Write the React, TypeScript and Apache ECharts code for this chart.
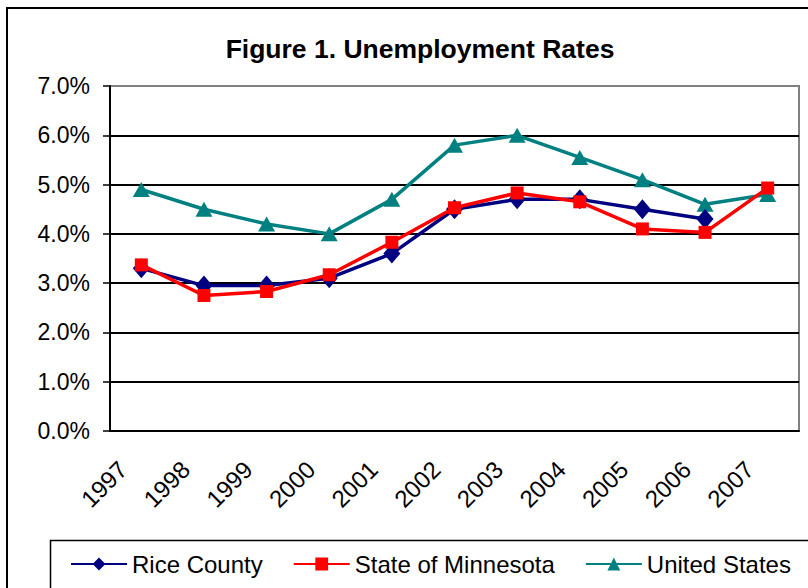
import React, { useEffect, useRef } from "react";
import * as echarts from "echarts";

const years = ["1997", "1998", "1999", "2000", "2001", "2002", "2003", "2004", "2005", "2006", "2007"];
const riceCounty = [3.3, 2.95, 2.95, 3.1, 3.6, 4.5, 4.7, 4.7, 4.5, 4.3, null];
const minnesota = [3.37, 2.75, 2.83, 3.17, 3.83, 4.53, 4.83, 4.65, 4.1, 4.03, 4.93];
const unitedStates = [4.9, 4.5, 4.2, 4.0, 4.7, 5.8, 6.0, 5.55, 5.1, 4.6, 4.8];

const FONT = "Liberation Sans, Arial, sans-serif";

export default function App() {
  const ref = useRef<HTMLDivElement>(null);
  useEffect(() => {
    if (!ref.current) return;
    const chart = echarts.init(ref.current, null, { renderer: "svg" });
    chart.setOption({
      animation: false,
      backgroundColor: "#ffffff",
      textStyle: { fontFamily: FONT },
      title: {
        text: "Figure 1. Unemployment Rates",
        left: 415,
        textAlign: "center",
        top: 30,
        textStyle: { fontFamily: FONT, fontSize: 26.5, fontWeight: "bold", color: "#000" },
      },
      graphic: [
        {
          type: "rect",
          shape: { x: 7, y: 8, width: 900, height: 700 },
          style: { fill: "none", stroke: "#000", lineWidth: 2 },
          z: -1,
        },
        {
          type: "rect",
          shape: { x: 50.5, y: 540.5, width: 900, height: 100 },
          style: { fill: "none", stroke: "#000", lineWidth: 1.5 },
          z: -1,
        },
      ],
      legend: {
        left: 70,
        top: 552,
        padding: 0,
        itemWidth: 56,
        itemHeight: 16,
        itemGap: 30,
        textStyle: { fontFamily: FONT, fontSize: 24, color: "#000" },
        data: ["Rice County", "State of Minnesota", "United States"],
      },
      grid: {
        left: 110,
        top: 86,
        right: 9,
        bottom: 157,
        show: true,
        borderColor: "#808080",
        borderWidth: 2,
        backgroundColor: "transparent",
      },
      xAxis: {
        type: "category",
        data: years,
        boundaryGap: true,
        axisLine: { lineStyle: { color: "#000", width: 2 } },
        axisTick: { show: false },
        axisLabel: {
          rotate: 45,
          margin: 16,
          padding: [0, 26, 0, 0],
          fontSize: 24,
          fontFamily: FONT,
          color: "#000",
        },
      },
      yAxis: {
        type: "value",
        min: 0,
        max: 7,
        interval: 1,
        axisLine: { show: true, lineStyle: { color: "#000", width: 2 } },
        axisTick: { show: true, length: 7, lineStyle: { color: "#000", width: 1.5 } },
        axisLabel: {
          margin: 20,
          fontSize: 23,
          fontFamily: FONT,
          color: "#000",
          formatter: (v: number) => v.toFixed(1) + "%",
        },
        splitLine: {
          lineStyle: {
            color: ["#000", "#000", "#000", "#000", "#000", "#000", "#000", "#808080"],
            width: 2,
          },
        },
      },
      series: [
        {
          name: "Rice County",
          type: "line",
          data: riceCounty,
          color: "#000080",
          lineStyle: { width: 3.5, color: "#000080" },
          symbol: "diamond",
          symbolSize: [17, 20],
          itemStyle: { color: "#000080" },
          z: 3,
        },
        {
          name: "State of Minnesota",
          type: "line",
          data: minnesota,
          color: "#ff0000",
          lineStyle: { width: 3.5, color: "#ff0000" },
          symbol: "rect",
          symbolSize: 13,
          itemStyle: { color: "#ff0000" },
          z: 4,
        },
        {
          name: "United States",
          type: "line",
          data: unitedStates,
          color: "#008080",
          lineStyle: { width: 3.5, color: "#008080" },
          symbol: "triangle",
          symbolSize: [17, 15],
          itemStyle: { color: "#008080" },
          z: 2,
        },
      ],
    });
    return () => chart.dispose();
  }, []);
  return (
    <div
      ref={ref}
      style={{ position: "fixed", left: 0, top: 0, width: 808, height: 588 }}
    />
  );
}
